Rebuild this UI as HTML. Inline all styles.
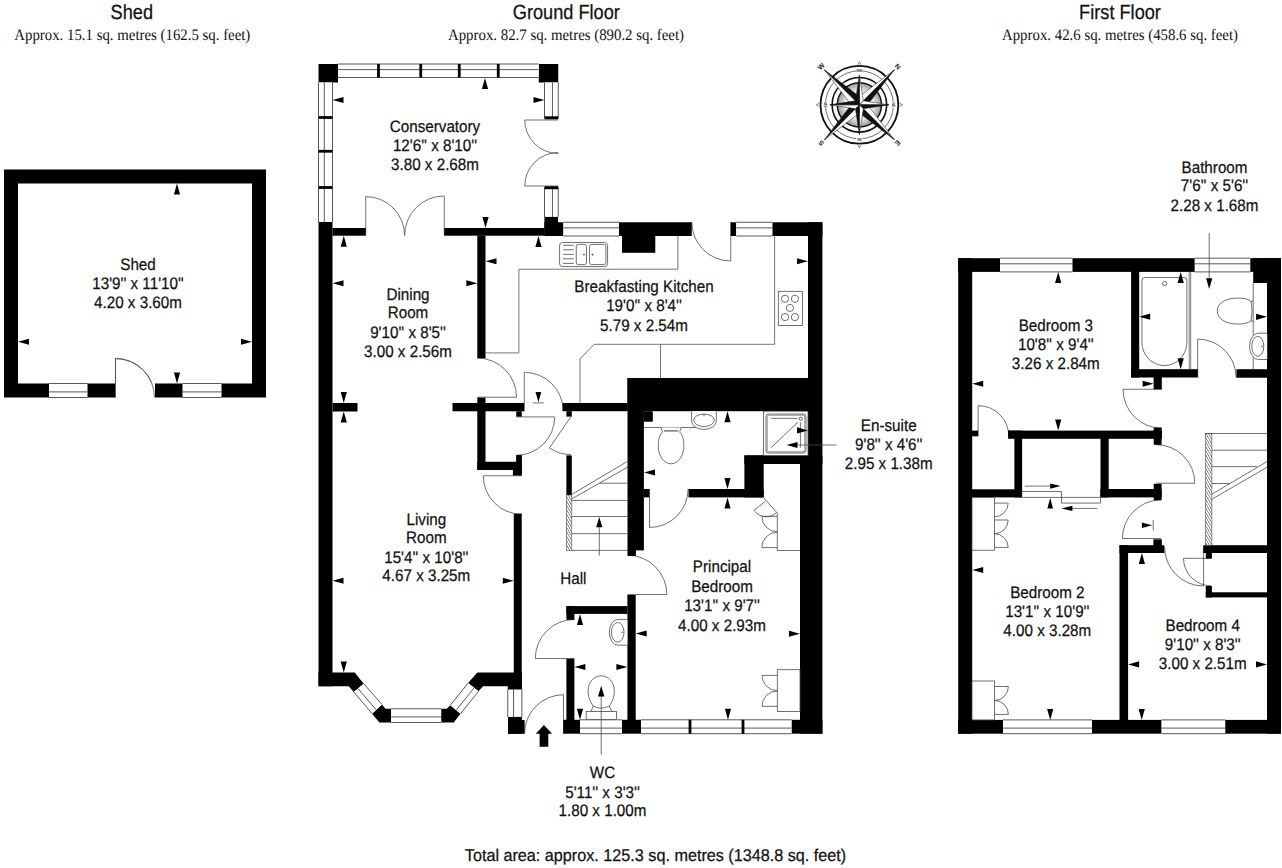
<!DOCTYPE html>
<html><head><meta charset="utf-8"><title>Floor plan</title>
<style>html,body{margin:0;padding:0;background:#fff}svg{display:block}</style>
</head><body>
<svg width="1282" height="868" viewBox="0 0 1282 868">
<rect width="1282" height="868" fill="#fff"/>
<text transform="translate(131.80,18.90) scale(0.887,1)" font-family="Liberation Sans" font-size="20.5" text-anchor="middle" fill="#111" stroke="#111" stroke-width="0.25" text-rendering="geometricPrecision">Shed</text>
<text transform="translate(132.30,40.00) scale(0.927,1)" font-family="Liberation Serif" font-size="16" text-anchor="middle" fill="#111" stroke="#111" stroke-width="0" text-rendering="geometricPrecision">Approx. 15.1 sq. metres (162.5 sq. feet)</text>
<text transform="translate(566.30,18.90) scale(0.887,1)" font-family="Liberation Sans" font-size="20.5" text-anchor="middle" fill="#111" stroke="#111" stroke-width="0.25" text-rendering="geometricPrecision">Ground Floor</text>
<text transform="translate(566.00,40.00) scale(0.927,1)" font-family="Liberation Serif" font-size="16" text-anchor="middle" fill="#111" stroke="#111" stroke-width="0" text-rendering="geometricPrecision">Approx. 82.7 sq. metres (890.2 sq. feet)</text>
<text transform="translate(1120.00,18.90) scale(0.887,1)" font-family="Liberation Sans" font-size="20.5" text-anchor="middle" fill="#111" stroke="#111" stroke-width="0.25" text-rendering="geometricPrecision">First Floor</text>
<text transform="translate(1120.00,40.00) scale(0.927,1)" font-family="Liberation Serif" font-size="16" text-anchor="middle" fill="#111" stroke="#111" stroke-width="0" text-rendering="geometricPrecision">Approx. 42.6 sq. metres (458.6 sq. feet)</text>
<text transform="translate(655.50,861.20) scale(0.952,1)" font-family="Liberation Sans" font-size="17" text-anchor="middle" fill="#111" stroke="#111" stroke-width="0.25" text-rendering="geometricPrecision">Total area: approx. 125.3 sq. metres (1348.8 sq. feet)</text>
<path fill="#000" fill-rule="evenodd" d="M4,169.5H266V397.5H4Z M18,183.5H252V383.5H18Z"/>
<path d="M115.50,397.50 L115.50,358.50 A39.00,39.00 0 0 1 154.50,397.50" stroke="#484848" stroke-width="0.78" fill="none"/>
<rect x="115.50" y="382.80" width="39.50" height="15.40" fill="#fff" />
<path d="M115.50,397.50 L115.50,358.50 A39.00,39.00 0 0 1 154.50,397.50" stroke="#484848" stroke-width="0.78" fill="none"/>
<rect x="49.00" y="383.50" width="38.50" height="14.00" fill="#fff" />
<line x1="49.00" y1="383.50" x2="87.50" y2="383.50" stroke="#5a5a5a" stroke-width="1.0"/>
<line x1="49.00" y1="391.90" x2="87.50" y2="391.90" stroke="#5a5a5a" stroke-width="1.0"/>
<line x1="49.00" y1="397.50" x2="87.50" y2="397.50" stroke="#5a5a5a" stroke-width="1.0"/>
<rect x="182.50" y="383.50" width="39.00" height="14.00" fill="#fff" />
<line x1="182.50" y1="383.50" x2="221.50" y2="383.50" stroke="#5a5a5a" stroke-width="1.0"/>
<line x1="182.50" y1="391.90" x2="221.50" y2="391.90" stroke="#5a5a5a" stroke-width="1.0"/>
<line x1="182.50" y1="397.50" x2="221.50" y2="397.50" stroke="#5a5a5a" stroke-width="1.0"/>
<polygon points="177.00,183.50 173.90,194.50 180.10,194.50" fill="#000" />
<polygon points="177.00,383.50 173.90,372.50 180.10,372.50" fill="#000" />
<polygon points="18.00,341.75 29.00,338.65 29.00,344.85" fill="#000" />
<polygon points="252.00,341.75 241.00,338.65 241.00,344.85" fill="#000" />
<text transform="translate(138.00,269.70) scale(0.916,1)" font-family="Liberation Sans" font-size="16.6" text-anchor="middle" fill="#111" stroke="#111" stroke-width="0.25" text-rendering="geometricPrecision">Shed</text>
<text transform="translate(138.00,288.80) scale(0.916,1)" font-family="Liberation Sans" font-size="16.6" text-anchor="middle" fill="#111" stroke="#111" stroke-width="0.25" text-rendering="geometricPrecision">13'9'' x 11'10''</text>
<text transform="translate(138.00,308.00) scale(0.916,1)" font-family="Liberation Sans" font-size="16.6" text-anchor="middle" fill="#111" stroke="#111" stroke-width="0.25" text-rendering="geometricPrecision">4.20 x 3.60m</text>
<path d="M365.75,235.50 L365.75,196.60 A38.90,38.90 0 0 1 404.65,235.50" stroke="#484848" stroke-width="0.78" fill="none"/>
<path d="M444.25,235.50 L444.25,195.90 A39.60,39.60 0 0 0 404.65,235.50" stroke="#484848" stroke-width="0.78" fill="none"/>
<path d="M558.25,120.00 L524.75,120.00 A33.50,33.50 0 0 0 558.25,153.50" stroke="#484848" stroke-width="0.78" fill="none"/>
<path d="M558.25,186.00 L524.75,186.00 A33.50,33.50 0 0 1 558.25,152.50" stroke="#484848" stroke-width="0.78" fill="none"/>
<path d="M477.30,397.20 L516.50,397.20 A39.20,39.20 0 0 0 477.30,358.00" stroke="#484848" stroke-width="0.78" fill="none"/>
<path d="M524.30,411.30 L524.30,372.30 A39.00,39.00 0 0 1 563.30,411.30" stroke="#484848" stroke-width="0.78" fill="none"/>
<path d="M516.30,416.90 L554.70,416.90 A38.40,38.40 0 0 1 516.30,455.30" stroke="#484848" stroke-width="0.78" fill="none"/>
<path d="M571.00,416.60 L549.48,447.92 A38.00,38.00 0 0 0 571.00,454.60" stroke="#484848" stroke-width="0.78" fill="none"/>
<path d="M521.75,475.75 L483.25,475.75 A38.50,38.50 0 0 0 521.75,514.25" stroke="#484848" stroke-width="0.78" fill="none"/>
<path d="M730.75,222.00 L730.75,261.00 A39.00,39.00 0 0 1 691.75,222.00" stroke="#484848" stroke-width="0.78" fill="none"/>
<path d="M649.50,488.90 L649.50,527.50 A38.60,38.60 0 0 0 688.10,488.90" stroke="#484848" stroke-width="0.78" fill="none"/>
<path d="M627.50,594.50 L666.80,594.50 A39.30,39.30 0 0 0 627.50,555.20" stroke="#484848" stroke-width="0.78" fill="none"/>
<path d="M574.30,658.50 L535.30,658.50 A39.00,39.00 0 0 1 574.30,619.50" stroke="#484848" stroke-width="0.78" fill="none"/>
<path d="M563.50,733.75 L563.50,694.75 A39.00,39.00 0 0 0 524.50,733.75" stroke="#484848" stroke-width="0.78" fill="none"/>
<rect x="318.50" y="64.00" width="19.50" height="18.50" fill="#000" />
<rect x="538.75" y="64.00" width="19.50" height="18.50" fill="#000" />
<rect x="338.00" y="64.00" width="200.75" height="13.50" fill="#fff" />
<line x1="338.00" y1="64.00" x2="538.75" y2="64.00" stroke="#5a5a5a" stroke-width="1.0"/>
<line x1="338.00" y1="69.60" x2="538.75" y2="69.60" stroke="#5a5a5a" stroke-width="1.0"/>
<line x1="338.00" y1="77.50" x2="538.75" y2="77.50" stroke="#5a5a5a" stroke-width="1.0"/>
<rect x="377.10" y="64.00" width="2.80" height="13.50" fill="#000" />
<rect x="419.35" y="64.00" width="2.80" height="13.50" fill="#000" />
<rect x="457.85" y="64.00" width="2.80" height="13.50" fill="#000" />
<rect x="496.85" y="64.00" width="2.80" height="13.50" fill="#000" />
<rect x="318.50" y="82.50" width="14.00" height="139.50" fill="#fff" />
<line x1="318.50" y1="82.50" x2="318.50" y2="222.00" stroke="#5a5a5a" stroke-width="1.0"/>
<line x1="324.30" y1="82.50" x2="324.30" y2="222.00" stroke="#5a5a5a" stroke-width="1.0"/>
<line x1="332.50" y1="82.50" x2="332.50" y2="222.00" stroke="#5a5a5a" stroke-width="1.0"/>
<rect x="318.50" y="116.10" width="14.00" height="2.80" fill="#000" />
<rect x="318.50" y="149.85" width="14.00" height="2.80" fill="#000" />
<rect x="318.50" y="186.10" width="14.00" height="2.80" fill="#000" />
<rect x="544.50" y="82.50" width="13.75" height="35.50" fill="#fff" />
<line x1="544.50" y1="82.50" x2="544.50" y2="118.00" stroke="#5a5a5a" stroke-width="1.0"/>
<line x1="552.45" y1="82.50" x2="552.45" y2="118.00" stroke="#5a5a5a" stroke-width="1.0"/>
<line x1="558.25" y1="82.50" x2="558.25" y2="118.00" stroke="#5a5a5a" stroke-width="1.0"/>
<rect x="544.50" y="116.30" width="13.75" height="3.00" fill="#000" />
<rect x="544.50" y="187.50" width="13.75" height="29.50" fill="#fff" />
<line x1="544.50" y1="187.50" x2="544.50" y2="217.00" stroke="#5a5a5a" stroke-width="1.0"/>
<line x1="552.45" y1="187.50" x2="552.45" y2="217.00" stroke="#5a5a5a" stroke-width="1.0"/>
<line x1="558.25" y1="187.50" x2="558.25" y2="217.00" stroke="#5a5a5a" stroke-width="1.0"/>
<rect x="544.50" y="186.20" width="13.75" height="3.00" fill="#000" />
<rect x="544.40" y="216.90" width="13.60" height="19.10" fill="#000" />
<rect x="544.40" y="222.25" width="19.00" height="13.75" fill="#000" />
<rect x="318.50" y="222.00" width="14.00" height="464.25" fill="#000" />
<rect x="332.50" y="228.00" width="33.25" height="7.70" fill="#000" />
<rect x="444.25" y="228.00" width="100.25" height="7.70" fill="#000" />
<rect x="563.40" y="222.25" width="55.60" height="13.75" fill="#fff" />
<line x1="563.40" y1="222.25" x2="619.00" y2="222.25" stroke="#5a5a5a" stroke-width="1.0"/>
<line x1="563.40" y1="227.85" x2="619.00" y2="227.85" stroke="#5a5a5a" stroke-width="1.0"/>
<line x1="563.40" y1="236.00" x2="619.00" y2="236.00" stroke="#5a5a5a" stroke-width="1.0"/>
<rect x="619.00" y="222.25" width="72.75" height="13.75" fill="#000" />
<rect x="622.00" y="236.00" width="33.30" height="16.80" fill="#000" />
<rect x="730.75" y="222.25" width="5.50" height="13.75" fill="#000" />
<rect x="736.25" y="222.25" width="36.25" height="13.75" fill="#fff" />
<line x1="736.25" y1="222.25" x2="772.50" y2="222.25" stroke="#5a5a5a" stroke-width="1.0"/>
<line x1="736.25" y1="227.85" x2="772.50" y2="227.85" stroke="#5a5a5a" stroke-width="1.0"/>
<line x1="736.25" y1="236.00" x2="772.50" y2="236.00" stroke="#5a5a5a" stroke-width="1.0"/>
<rect x="772.50" y="222.25" width="49.90" height="13.75" fill="#000" />
<rect x="808.00" y="222.25" width="14.40" height="241.75" fill="#000" />
<rect x="800.00" y="455.40" width="22.40" height="278.20" fill="#000" />
<rect x="477.30" y="235.50" width="8.20" height="122.70" fill="#000" />
<rect x="332.50" y="403.00" width="25.00" height="8.50" fill="#000" />
<rect x="452.50" y="403.00" width="71.60" height="8.30" fill="#000" />
<rect x="562.60" y="403.00" width="65.00" height="8.20" fill="#000" />
<rect x="477.30" y="397.60" width="8.20" height="72.40" fill="#000" />
<rect x="477.30" y="461.75" width="44.45" height="8.25" fill="#000" />
<rect x="516.10" y="455.10" width="5.80" height="7.90" fill="#000" />
<rect x="512.90" y="462.00" width="9.00" height="13.50" fill="#000" />
<rect x="516.30" y="411.30" width="5.50" height="5.30" fill="#000" />
<rect x="566.40" y="411.20" width="5.40" height="5.40" fill="#000" />
<rect x="566.40" y="455.40" width="5.40" height="39.60" fill="#000" />
<rect x="513.75" y="513.75" width="8.00" height="175.00" fill="#000" />
<rect x="627.50" y="378.00" width="181.25" height="33.20" fill="#000" />
<rect x="627.50" y="378.00" width="16.40" height="172.40" fill="#000" />
<rect x="627.50" y="550.00" width="8.40" height="6.00" fill="#000" />
<rect x="643.80" y="411.20" width="9.00" height="10.50" fill="#000" />
<rect x="643.80" y="489.00" width="5.60" height="8.40" fill="#000" />
<rect x="688.50" y="489.00" width="75.20" height="8.40" fill="#000" />
<rect x="744.40" y="455.40" width="19.30" height="42.00" fill="#000" />
<rect x="744.40" y="455.40" width="64.35" height="8.60" fill="#000" />
<rect x="627.40" y="595.00" width="8.30" height="125.00" fill="#000" />
<rect x="566.40" y="606.10" width="61.10" height="7.80" fill="#000" />
<rect x="566.40" y="606.10" width="8.00" height="13.70" fill="#000" />
<rect x="566.40" y="658.80" width="8.00" height="61.20" fill="#000" />
<rect x="563.30" y="719.80" width="16.70" height="13.90" fill="#000" />
<rect x="621.80" y="719.80" width="19.20" height="13.90" fill="#000" />
<rect x="791.50" y="719.80" width="30.90" height="13.90" fill="#000" />
<rect x="580.00" y="719.80" width="41.80" height="13.90" fill="#fff" />
<line x1="580.00" y1="719.80" x2="621.80" y2="719.80" stroke="#5a5a5a" stroke-width="1.0"/>
<line x1="580.00" y1="728.10" x2="621.80" y2="728.10" stroke="#5a5a5a" stroke-width="1.0"/>
<line x1="580.00" y1="733.70" x2="621.80" y2="733.70" stroke="#5a5a5a" stroke-width="1.0"/>
<rect x="641.00" y="719.80" width="150.50" height="13.90" fill="#fff" />
<line x1="641.00" y1="719.80" x2="791.50" y2="719.80" stroke="#5a5a5a" stroke-width="1.0"/>
<line x1="641.00" y1="728.10" x2="791.50" y2="728.10" stroke="#5a5a5a" stroke-width="1.0"/>
<line x1="641.00" y1="733.70" x2="791.50" y2="733.70" stroke="#5a5a5a" stroke-width="1.0"/>
<rect x="688.60" y="719.80" width="2.80" height="13.90" fill="#000" />
<rect x="741.60" y="719.80" width="2.80" height="13.90" fill="#000" />
<rect x="507.75" y="689.40" width="14.15" height="27.60" fill="#fff" />
<line x1="507.75" y1="689.40" x2="507.75" y2="717.00" stroke="#5a5a5a" stroke-width="1.0"/>
<line x1="513.55" y1="689.40" x2="513.55" y2="717.00" stroke="#5a5a5a" stroke-width="1.0"/>
<line x1="521.90" y1="689.40" x2="521.90" y2="717.00" stroke="#5a5a5a" stroke-width="1.0"/>
<rect x="508.00" y="716.90" width="13.90" height="16.85" fill="#000" />
<rect x="508.00" y="720.00" width="16.60" height="13.75" fill="#000" />
<polygon points="318.50,672.50 354.75,672.50 363.75,683.75 353.75,691.90 348.75,686.25 318.50,686.25" fill="#000" />
<polygon points="381.90,704.40 385.40,708.75 391.10,708.75 391.10,722.50 379.40,722.50 372.10,713.75" fill="#000" />
<polygon points="441.15,708.75 446.90,708.75 450.30,705.20 460.50,713.75 453.75,722.50 441.15,722.50" fill="#000" />
<polygon points="477.25,672.50 521.90,672.50 521.90,689.40 507.75,689.40 507.75,686.25 483.10,686.25 478.50,691.25 468.10,683.10" fill="#000" />
<rect x="391.10" y="708.75" width="50.05" height="13.75" fill="#fff" />
<line x1="391.10" y1="708.75" x2="441.15" y2="708.75" stroke="#5a5a5a" stroke-width="1.0"/>
<line x1="391.10" y1="716.90" x2="441.15" y2="716.90" stroke="#5a5a5a" stroke-width="1.0"/>
<line x1="391.10" y1="722.50" x2="441.15" y2="722.50" stroke="#5a5a5a" stroke-width="1.0"/>
<polygon points="353.75,691.90 372.10,713.75 381.90,704.40 363.75,683.75" fill="#fff" />
<line x1="353.75" y1="691.90" x2="372.10" y2="713.75" stroke="#5a5a5a" stroke-width="1.0"/>
<line x1="363.75" y1="683.75" x2="381.90" y2="704.40" stroke="#5a5a5a" stroke-width="1.0"/>
<line x1="357.95" y1="688.48" x2="376.22" y2="709.82" stroke="#5a5a5a" stroke-width="1.0"/>
<polygon points="478.50,691.25 460.50,713.75 450.30,705.20 468.10,683.10" fill="#fff" />
<line x1="478.50" y1="691.25" x2="460.50" y2="713.75" stroke="#5a5a5a" stroke-width="1.0"/>
<line x1="468.10" y1="683.10" x2="450.30" y2="705.20" stroke="#5a5a5a" stroke-width="1.0"/>
<line x1="474.13" y1="687.83" x2="456.22" y2="710.16" stroke="#5a5a5a" stroke-width="1.0"/>
<defs><pattern id="h" width="2.2" height="2.2" patternUnits="userSpaceOnUse" patternTransform="rotate(-30)"><rect width="2.2" height="2.2" fill="#fff"/><line x1="0" y1="0" x2="0" y2="2.2" stroke="#333" stroke-width="1"/></pattern></defs>
<rect x="566.4" y="495" width="5.4" height="55.4" fill="url(#h)" stroke="#484848" stroke-width="0.6"/>
<line x1="571.80" y1="500.40" x2="627.50" y2="500.40" stroke="#484848" stroke-width="0.78"/>
<line x1="571.80" y1="516.50" x2="627.50" y2="516.50" stroke="#484848" stroke-width="0.78"/>
<line x1="571.80" y1="533.70" x2="627.50" y2="533.70" stroke="#484848" stroke-width="0.78"/>
<line x1="571.80" y1="550.40" x2="627.50" y2="550.40" stroke="#484848" stroke-width="0.78"/>
<line x1="599.70" y1="483.20" x2="627.50" y2="483.20" stroke="#484848" stroke-width="0.78"/>
<line x1="571.80" y1="494.40" x2="627.50" y2="461.30" stroke="#484848" stroke-width="0.78"/>
<line x1="571.80" y1="498.90" x2="627.50" y2="467.20" stroke="#484848" stroke-width="0.78"/>
<line x1="599.30" y1="555.60" x2="599.30" y2="520.00" stroke="#484848" stroke-width="0.78"/>
<polygon points="599.30,516.90 596.20,527.30 602.40,527.30" fill="#000" />
<path d="M485.5,352.9 H518.9 V269.2 H677.9 V236" stroke="#666" stroke-width="0.9" fill="none"/>
<path d="M774.6,236 V344.3 H594.1 L580,358.9 V403" stroke="#666" stroke-width="0.9" fill="none"/>
<line x1="660.50" y1="344.30" x2="660.50" y2="378.00" stroke="#666" stroke-width="0.9"/>
<rect x="559.6" y="242.5" width="48" height="24.1" rx="3" fill="#fff" stroke="#484848" stroke-width="0.78"/>
<line x1="563.00" y1="245.30" x2="573.75" y2="245.30" stroke="#484848" stroke-width="0.78"/>
<line x1="563.00" y1="249.80" x2="573.75" y2="249.80" stroke="#484848" stroke-width="0.78"/>
<line x1="563.00" y1="254.40" x2="573.75" y2="254.40" stroke="#484848" stroke-width="0.78"/>
<line x1="563.00" y1="258.80" x2="573.75" y2="258.80" stroke="#484848" stroke-width="0.78"/>
<line x1="563.00" y1="263.40" x2="573.75" y2="263.40" stroke="#484848" stroke-width="0.78"/>
<rect x="576.25" y="244.4" width="10.25" height="20.2" rx="2" fill="none" stroke="#484848" stroke-width="0.78"/>
<rect x="589.6" y="244.4" width="16.3" height="20.2" rx="2" fill="none" stroke="#484848" stroke-width="0.78"/>
<circle cx="584" cy="254.6" r="0.9" fill="#444"/><circle cx="592.5" cy="254.6" r="0.9" fill="#444"/>
<rect x="778.3" y="291.3" width="24.2" height="34.3" fill="#fff" stroke="#484848" stroke-width="0.78"/>
<circle cx="785" cy="298.8" r="3.6" fill="none" stroke="#484848" stroke-width="0.78"/>
<circle cx="794.9" cy="298.8" r="3.6" fill="none" stroke="#484848" stroke-width="0.78"/>
<circle cx="789.9" cy="307.9" r="3.6" fill="none" stroke="#484848" stroke-width="0.78"/>
<circle cx="785" cy="317.1" r="3.6" fill="none" stroke="#484848" stroke-width="0.78"/>
<circle cx="794.9" cy="317.1" r="3.6" fill="none" stroke="#484848" stroke-width="0.78"/>
<line x1="644.00" y1="427.50" x2="695.80" y2="427.50" stroke="#484848" stroke-width="0.78"/>
<path d="M691.6,411.3 V420.3 C691.6,426 697,429.3 704,429.3 C711,429.3 716.3,426 716.3,420.3 V411.3" stroke="#484848" stroke-width="0.78" fill="#fff"/>
<ellipse cx="704" cy="420.3" rx="10.3" ry="6.2" fill="none" stroke="#484848" stroke-width="0.78"/>
<line x1="704.00" y1="414.30" x2="704.00" y2="416.20" stroke="#555" stroke-width="0.9"/>
<path d="M661,427.5 L662.5,432 C658.8,436 658.3,441 658.3,446 C658.3,456 664,463.8 671.1,463.8 C678,463.8 683.8,456 683.8,446 C683.8,441 683.3,436 679.7,432 L681.2,427.5" stroke="#484848" stroke-width="0.78" fill="#fff"/>
<line x1="664.00" y1="430.90" x2="678.20" y2="430.90" stroke="#484848" stroke-width="1.1"/>
<rect x="763.6" y="411.2" width="44.4" height="44.2" fill="#fff" stroke="#484848" stroke-width="0.78"/>
<rect x="766" y="414" width="40" height="39" rx="2.5" fill="none" stroke="#484848" stroke-width="0.78"/>
<rect x="767.2" y="415.2" width="37.6" height="36.6" rx="2" fill="none" stroke="#484848" stroke-width="0.6"/>
<line x1="771.20" y1="418.40" x2="797.70" y2="418.40" stroke="#484848" stroke-width="0.78"/>
<circle cx="800.8" cy="418.7" r="1.6" fill="none" stroke="#484848" stroke-width="0.8"/>
<line x1="771.20" y1="447.60" x2="797.70" y2="422.30" stroke="#484848" stroke-width="0.78"/>
<line x1="800.40" y1="422.30" x2="800.40" y2="447.60" stroke="#484848" stroke-width="0.78"/>
<path d="M764,498 L777.3,513.2 V550.5 H800" stroke="#484848" stroke-width="0.78" fill="none"/>
<path d="M765.4,501.3 L754,510.3 A14.8,14.8 0 0 0 776.6,512.6" stroke="#484848" stroke-width="0.78" fill="none"/>
<path d="M777.30,516.30 L761.80,516.30 A15.50,15.50 0 0 0 777.30,531.80" stroke="#484848" stroke-width="0.78" fill="none"/>
<path d="M777.30,547.60 L761.80,547.60 A15.50,15.50 0 0 1 777.30,532.10" stroke="#484848" stroke-width="0.78" fill="none"/>
<rect x="777.3" y="669.7" width="22.7" height="41.7" fill="#fff" stroke="#484848" stroke-width="0.78"/>
<path d="M777.30,675.40 L762.00,675.40 A15.30,15.30 0 0 0 777.30,690.70" stroke="#484848" stroke-width="0.78" fill="none"/>
<path d="M777.30,706.30 L762.00,706.30 A15.30,15.30 0 0 1 777.30,691.00" stroke="#484848" stroke-width="0.78" fill="none"/>
<path d="M627.3,619.4 H618 A8.7,12.9 0 0 0 618,645.2 H627.3" stroke="#484848" stroke-width="0.78" fill="#fff"/>
<ellipse cx="617.7" cy="632.3" rx="6.3" ry="9.8" fill="none" stroke="#484848" stroke-width="0.78"/>
<line x1="621.50" y1="632.30" x2="623.30" y2="632.30" stroke="#555" stroke-width="0.9"/>
<path d="M591,711.3 L593.2,706 C589.5,701 588.1,696 588.1,691 C588.1,682 594,675.8 601.2,675.8 C608.5,675.8 614.3,682 614.3,691 C614.3,696 613,701 609.3,706 L611.7,711.3" stroke="#484848" stroke-width="0.78" fill="#fff"/>
<path d="M593.2,706 Q601.2,710.3 609.3,706" stroke="#484848" stroke-width="0.78" fill="none"/>
<rect x="586.2" y="711.4" width="30.3" height="8.2" fill="#fff" stroke="#484848" stroke-width="0.78"/>
<line x1="601.20" y1="754.50" x2="601.20" y2="690.00" stroke="#484848" stroke-width="0.78"/>
<polygon points="601.20,685.70 598.00,696.50 604.40,696.50" fill="#000" />
<polygon points="485.00,78.00 481.90,89.00 488.10,89.00" fill="#000" />
<polygon points="332.50,100.00 343.50,96.90 343.50,103.10" fill="#000" />
<polygon points="544.50,100.00 533.50,96.90 533.50,103.10" fill="#000" />
<polygon points="485.50,228.00 482.40,217.00 488.60,217.00" fill="#000" />
<polygon points="343.75,235.70 340.65,246.70 346.85,246.70" fill="#000" />
<polygon points="538.50,235.90 535.40,246.90 541.60,246.90" fill="#000" />
<polygon points="485.50,261.25 496.50,258.15 496.50,264.35" fill="#000" />
<polygon points="332.50,283.25 343.50,280.15 343.50,286.35" fill="#000" />
<polygon points="477.30,283.25 466.30,280.15 466.30,286.35" fill="#000" />
<polygon points="343.75,403.00 340.65,392.00 346.85,392.00" fill="#000" />
<polygon points="343.75,411.50 340.65,422.50 346.85,422.50" fill="#000" />
<polygon points="538.40,402.30 535.50,392.10 541.30,392.10" fill="#000" />
<line x1="532.70" y1="402.90" x2="543.80" y2="402.90" stroke="#484848" stroke-width="0.78"/>
<polygon points="808.00,261.25 797.00,258.15 797.00,264.35" fill="#000" />
<polygon points="332.50,580.75 343.50,577.65 343.50,583.85" fill="#000" />
<polygon points="513.75,580.75 502.75,577.65 502.75,583.85" fill="#000" />
<polygon points="343.75,672.50 340.65,661.50 346.85,661.50" fill="#000" />
<polygon points="727.50,411.20 724.40,422.20 730.60,422.20" fill="#000" />
<polygon points="644.00,472.50 655.00,469.40 655.00,475.60" fill="#000" />
<polygon points="727.50,489.00 724.40,478.00 730.60,478.00" fill="#000" />
<polygon points="727.50,497.40 724.40,508.40 730.60,508.40" fill="#000" />
<polygon points="808.00,430.40 797.00,427.30 797.00,433.50" fill="#000" />
<polygon points="786.50,445.00 797.50,441.90 797.50,448.10" fill="#000" />
<line x1="797.00" y1="445.00" x2="836.50" y2="445.00" stroke="#484848" stroke-width="0.78"/>
<polygon points="635.70,633.50 646.70,630.40 646.70,636.60" fill="#000" />
<polygon points="800.00,633.75 789.00,630.65 789.00,636.85" fill="#000" />
<polygon points="728.00,719.80 724.90,708.80 731.10,708.80" fill="#000" />
<polygon points="580.00,613.90 576.90,624.90 583.10,624.90" fill="#000" />
<polygon points="574.40,667.00 585.40,663.90 585.40,670.10" fill="#000" />
<polygon points="627.40,667.00 616.40,663.90 616.40,670.10" fill="#000" />
<polygon points="580.00,719.80 576.90,708.80 583.10,708.80" fill="#000" />
<polygon points="543.90,725.10 552.10,733.80 548.30,733.80 548.30,746.80 539.60,746.80 539.60,733.80 535.80,733.80" fill="#000" />
<text transform="translate(435.00,132.00) scale(0.916,1)" font-family="Liberation Sans" font-size="16.6" text-anchor="middle" fill="#111" stroke="#111" stroke-width="0.25" text-rendering="geometricPrecision">Conservatory</text>
<text transform="translate(435.00,151.20) scale(0.916,1)" font-family="Liberation Sans" font-size="16.6" text-anchor="middle" fill="#111" stroke="#111" stroke-width="0.25" text-rendering="geometricPrecision">12'6'' x 8'10''</text>
<text transform="translate(435.00,170.20) scale(0.916,1)" font-family="Liberation Sans" font-size="16.6" text-anchor="middle" fill="#111" stroke="#111" stroke-width="0.25" text-rendering="geometricPrecision">3.80 x 2.68m</text>
<text transform="translate(408.00,299.50) scale(0.916,1)" font-family="Liberation Sans" font-size="16.6" text-anchor="middle" fill="#111" stroke="#111" stroke-width="0.25" text-rendering="geometricPrecision">Dining</text>
<text transform="translate(408.00,318.40) scale(0.916,1)" font-family="Liberation Sans" font-size="16.6" text-anchor="middle" fill="#111" stroke="#111" stroke-width="0.25" text-rendering="geometricPrecision">Room</text>
<text transform="translate(408.00,337.50) scale(0.916,1)" font-family="Liberation Sans" font-size="16.6" text-anchor="middle" fill="#111" stroke="#111" stroke-width="0.25" text-rendering="geometricPrecision">9'10'' x 8'5''</text>
<text transform="translate(408.00,356.60) scale(0.916,1)" font-family="Liberation Sans" font-size="16.6" text-anchor="middle" fill="#111" stroke="#111" stroke-width="0.25" text-rendering="geometricPrecision">3.00 x 2.56m</text>
<text transform="translate(644.00,291.80) scale(0.916,1)" font-family="Liberation Sans" font-size="16.6" text-anchor="middle" fill="#111" stroke="#111" stroke-width="0.25" text-rendering="geometricPrecision">Breakfasting Kitchen</text>
<text transform="translate(644.00,311.20) scale(0.916,1)" font-family="Liberation Sans" font-size="16.6" text-anchor="middle" fill="#111" stroke="#111" stroke-width="0.25" text-rendering="geometricPrecision">19'0'' x 8'4''</text>
<text transform="translate(644.00,330.70) scale(0.916,1)" font-family="Liberation Sans" font-size="16.6" text-anchor="middle" fill="#111" stroke="#111" stroke-width="0.25" text-rendering="geometricPrecision">5.79 x 2.54m</text>
<text transform="translate(426.30,524.50) scale(0.916,1)" font-family="Liberation Sans" font-size="16.6" text-anchor="middle" fill="#111" stroke="#111" stroke-width="0.25" text-rendering="geometricPrecision">Living</text>
<text transform="translate(426.30,543.20) scale(0.916,1)" font-family="Liberation Sans" font-size="16.6" text-anchor="middle" fill="#111" stroke="#111" stroke-width="0.25" text-rendering="geometricPrecision">Room</text>
<text transform="translate(426.30,562.50) scale(0.916,1)" font-family="Liberation Sans" font-size="16.6" text-anchor="middle" fill="#111" stroke="#111" stroke-width="0.25" text-rendering="geometricPrecision">15'4'' x 10'8''</text>
<text transform="translate(426.30,581.30) scale(0.916,1)" font-family="Liberation Sans" font-size="16.6" text-anchor="middle" fill="#111" stroke="#111" stroke-width="0.25" text-rendering="geometricPrecision">4.67 x 3.25m</text>
<text transform="translate(573.30,583.80) scale(0.916,1)" font-family="Liberation Sans" font-size="16.6" text-anchor="middle" fill="#111" stroke="#111" stroke-width="0.25" text-rendering="geometricPrecision">Hall</text>
<text transform="translate(722.00,572.40) scale(0.916,1)" font-family="Liberation Sans" font-size="16.6" text-anchor="middle" fill="#111" stroke="#111" stroke-width="0.25" text-rendering="geometricPrecision">Principal</text>
<text transform="translate(722.00,592.00) scale(0.916,1)" font-family="Liberation Sans" font-size="16.6" text-anchor="middle" fill="#111" stroke="#111" stroke-width="0.25" text-rendering="geometricPrecision">Bedroom</text>
<text transform="translate(722.00,611.20) scale(0.916,1)" font-family="Liberation Sans" font-size="16.6" text-anchor="middle" fill="#111" stroke="#111" stroke-width="0.25" text-rendering="geometricPrecision">13'1'' x 9'7''</text>
<text transform="translate(722.00,630.50) scale(0.916,1)" font-family="Liberation Sans" font-size="16.6" text-anchor="middle" fill="#111" stroke="#111" stroke-width="0.25" text-rendering="geometricPrecision">4.00 x 2.93m</text>
<text transform="translate(888.70,430.90) scale(0.916,1)" font-family="Liberation Sans" font-size="16.6" text-anchor="middle" fill="#111" stroke="#111" stroke-width="0.25" text-rendering="geometricPrecision">En-suite</text>
<text transform="translate(888.70,449.80) scale(0.916,1)" font-family="Liberation Sans" font-size="16.6" text-anchor="middle" fill="#111" stroke="#111" stroke-width="0.25" text-rendering="geometricPrecision">9'8'' x 4'6''</text>
<text transform="translate(888.70,469.10) scale(0.916,1)" font-family="Liberation Sans" font-size="16.6" text-anchor="middle" fill="#111" stroke="#111" stroke-width="0.25" text-rendering="geometricPrecision">2.95 x 1.38m</text>
<text transform="translate(602.50,778.00) scale(0.916,1)" font-family="Liberation Sans" font-size="16.6" text-anchor="middle" fill="#111" stroke="#111" stroke-width="0.25" text-rendering="geometricPrecision">WC</text>
<text transform="translate(602.50,797.50) scale(0.916,1)" font-family="Liberation Sans" font-size="16.6" text-anchor="middle" fill="#111" stroke="#111" stroke-width="0.25" text-rendering="geometricPrecision">5'11'' x 3'3''</text>
<text transform="translate(602.50,816.30) scale(0.916,1)" font-family="Liberation Sans" font-size="16.6" text-anchor="middle" fill="#111" stroke="#111" stroke-width="0.25" text-rendering="geometricPrecision">1.80 x 1.00m</text>
<path d="M1197.70,377.50 L1197.70,339.10 A38.40,38.40 0 0 1 1236.10,377.50" stroke="#484848" stroke-width="0.78" fill="none"/>
<path d="M1162.00,389.25 L1123.00,389.25 A39.00,39.00 0 0 0 1162.00,428.25" stroke="#484848" stroke-width="0.78" fill="none"/>
<path d="M978.10,436.30 L978.10,405.60 A30.70,30.70 0 0 1 1008.80,436.30" stroke="#484848" stroke-width="0.78" fill="none"/>
<path d="M1156.30,483.20 L1194.80,483.20 A38.50,38.50 0 0 0 1156.30,444.70" stroke="#484848" stroke-width="0.78" fill="none"/>
<path d="M1161.00,538.50 L1122.40,538.50 A38.60,38.60 0 0 1 1161.00,499.90" stroke="#484848" stroke-width="0.78" fill="none"/>
<path d="M1203.60,547.00 L1203.60,586.00 A39.00,39.00 0 0 1 1164.60,547.00" stroke="#484848" stroke-width="0.78" fill="none"/>
<path d="M1211.00,558.30 L1183.50,558.30 A27.50,27.50 0 0 0 1211.00,585.80" stroke="#484848" stroke-width="0.78" fill="none"/>
<rect x="958.20" y="258.20" width="14.00" height="475.50" fill="#000" />
<rect x="958.20" y="258.20" width="41.80" height="13.70" fill="#000" />
<rect x="1000.00" y="258.20" width="72.50" height="13.70" fill="#fff" />
<line x1="1000.00" y1="258.20" x2="1072.50" y2="258.20" stroke="#5a5a5a" stroke-width="1.0"/>
<line x1="1000.00" y1="263.80" x2="1072.50" y2="263.80" stroke="#5a5a5a" stroke-width="1.0"/>
<line x1="1000.00" y1="271.90" x2="1072.50" y2="271.90" stroke="#5a5a5a" stroke-width="1.0"/>
<rect x="1072.50" y="258.20" width="122.30" height="13.70" fill="#000" />
<rect x="1194.80" y="258.20" width="55.50" height="13.70" fill="#fff" />
<line x1="1194.80" y1="258.20" x2="1250.30" y2="258.20" stroke="#5a5a5a" stroke-width="1.0"/>
<line x1="1194.80" y1="263.80" x2="1250.30" y2="263.80" stroke="#5a5a5a" stroke-width="1.0"/>
<line x1="1194.80" y1="271.90" x2="1250.30" y2="271.90" stroke="#5a5a5a" stroke-width="1.0"/>
<rect x="1250.30" y="258.20" width="30.70" height="13.70" fill="#000" />
<rect x="1253.20" y="258.20" width="27.80" height="24.80" fill="#000" />
<rect x="1267.00" y="258.20" width="14.00" height="475.50" fill="#000" />
<rect x="958.20" y="719.90" width="44.80" height="13.80" fill="#000" />
<rect x="1003.00" y="719.90" width="89.00" height="13.80" fill="#fff" />
<line x1="1003.00" y1="719.90" x2="1092.00" y2="719.90" stroke="#5a5a5a" stroke-width="1.0"/>
<line x1="1003.00" y1="728.10" x2="1092.00" y2="728.10" stroke="#5a5a5a" stroke-width="1.0"/>
<line x1="1003.00" y1="733.70" x2="1092.00" y2="733.70" stroke="#5a5a5a" stroke-width="1.0"/>
<rect x="1092.00" y="719.90" width="69.60" height="13.80" fill="#000" />
<rect x="1161.60" y="719.90" width="63.70" height="13.80" fill="#fff" />
<line x1="1161.60" y1="719.90" x2="1225.30" y2="719.90" stroke="#5a5a5a" stroke-width="1.0"/>
<line x1="1161.60" y1="728.10" x2="1225.30" y2="728.10" stroke="#5a5a5a" stroke-width="1.0"/>
<line x1="1161.60" y1="733.70" x2="1225.30" y2="733.70" stroke="#5a5a5a" stroke-width="1.0"/>
<rect x="1225.30" y="719.90" width="55.70" height="13.80" fill="#000" />
<rect x="1131.10" y="271.00" width="8.10" height="106.50" fill="#000" />
<rect x="1131.10" y="369.20" width="66.70" height="8.30" fill="#000" />
<rect x="1153.60" y="377.00" width="8.20" height="12.30" fill="#000" />
<rect x="1236.40" y="369.20" width="31.10" height="8.50" fill="#000" />
<rect x="972.00" y="430.60" width="6.10" height="5.70" fill="#000" />
<rect x="1008.10" y="430.60" width="153.90" height="8.20" fill="#000" />
<rect x="1008.10" y="430.60" width="14.00" height="5.70" fill="#000" />
<rect x="1153.70" y="427.60" width="7.90" height="17.20" fill="#000" />
<rect x="1014.40" y="436.00" width="7.70" height="61.40" fill="#000" />
<rect x="972.00" y="489.30" width="50.00" height="8.10" fill="#000" />
<rect x="1100.50" y="438.00" width="8.20" height="59.40" fill="#000" />
<rect x="1100.30" y="489.00" width="61.30" height="8.40" fill="#000" />
<rect x="1153.70" y="483.80" width="7.90" height="16.40" fill="#000" />
<rect x="1153.40" y="539.30" width="8.40" height="6.70" fill="#000" />
<rect x="1119.50" y="545.20" width="44.80" height="7.80" fill="#000" />
<rect x="1119.50" y="545.20" width="8.60" height="174.80" fill="#000" />
<rect x="1203.30" y="545.20" width="64.70" height="7.80" fill="#000" />
<rect x="1205.80" y="552.00" width="6.10" height="6.60" fill="#000" />
<rect x="1205.80" y="586.00" width="6.10" height="11.40" fill="#000" />
<rect x="1205.80" y="592.30" width="62.20" height="5.10" fill="#000" />
<line x1="1253.20" y1="283.00" x2="1253.20" y2="369.20" stroke="#484848" stroke-width="0.78"/>
<line x1="1189.20" y1="271.90" x2="1189.20" y2="369.20" stroke="#5a5a5a" stroke-width="0.8"/>
<line x1="1190.70" y1="271.90" x2="1190.70" y2="369.20" stroke="#5a5a5a" stroke-width="0.8"/>
<path d="M1144.9,277.5 H1183.9 Q1186.9,277.5 1186.9,280.5 V342 A22.5,23.6 0 0 1 1141.9,342 V280.5 Q1141.9,277.5 1144.9,277.5Z" stroke="#484848" stroke-width="0.78" fill="#fff"/>
<circle cx="1164.7" cy="283.5" r="2.1" fill="none" stroke="#484848" stroke-width="0.8"/>
<path d="M1251,301.5 C1247,298.3 1243,298.1 1237,298.1 C1226,298.1 1217.3,303 1217.3,311 C1217.3,319 1226,324 1237,324 C1243,324 1247,323.8 1251,320.8 C1252.3,315 1252.3,307 1251,301.5Z" stroke="#484848" stroke-width="0.78" fill="#fff"/>
<line x1="1251.00" y1="301.50" x2="1253.20" y2="301.00" stroke="#484848" stroke-width="0.78"/>
<line x1="1251.00" y1="320.80" x2="1253.20" y2="321.20" stroke="#484848" stroke-width="0.78"/>
<path d="M1267.2,333.2 H1258.5 A9,13.15 0 0 0 1258.5,359.5 H1267.2" stroke="#484848" stroke-width="0.78" fill="#fff"/>
<ellipse cx="1257.8" cy="346.3" rx="6" ry="10" fill="none" stroke="#484848" stroke-width="0.78"/>
<circle cx="1262" cy="346.3" r="0.8" fill="#555"/>
<rect x="1205.5" y="433.5" width="6.4" height="111.7" fill="url(#h)" stroke="#484848" stroke-width="0.6"/>
<line x1="1205.50" y1="433.50" x2="1267.00" y2="433.50" stroke="#484848" stroke-width="0.78"/>
<line x1="1211.90" y1="450.20" x2="1267.00" y2="450.20" stroke="#484848" stroke-width="0.78"/>
<line x1="1211.90" y1="466.60" x2="1257.00" y2="466.60" stroke="#484848" stroke-width="0.78"/>
<line x1="1211.90" y1="483.50" x2="1230.00" y2="483.50" stroke="#484848" stroke-width="0.78"/>
<line x1="1211.90" y1="494.20" x2="1267.00" y2="461.60" stroke="#484848" stroke-width="0.78"/>
<line x1="1211.90" y1="499.20" x2="1267.00" y2="467.30" stroke="#484848" stroke-width="0.78"/>
<path d="M1022,491.5 H1061.5 V503.1 H1100.6 V497.4" stroke="#484848" stroke-width="0.78" fill="none"/>
<line x1="1022.00" y1="497.40" x2="1100.30" y2="497.40" stroke="#484848" stroke-width="0.78"/>
<line x1="1024.70" y1="486.10" x2="1052.00" y2="486.10" stroke="#484848" stroke-width="0.78"/>
<polygon points="1060.60,486.10 1050.20,483.40 1050.20,488.80" fill="#000" />
<line x1="1097.00" y1="508.40" x2="1070.00" y2="508.40" stroke="#484848" stroke-width="0.78"/>
<polygon points="1061.50,508.40 1072.40,505.70 1072.40,511.10" fill="#000" />
<polygon points="1050.20,497.70 1047.40,508.40 1053.00,508.40" fill="#000" />
<rect x="972" y="497.4" width="22.5" height="52.8" fill="#fff" stroke="#484848" stroke-width="0.78"/>
<path d="M994.50,503.10 L1008.20,503.10 A13.70,13.70 0 0 1 994.50,516.80" stroke="#484848" stroke-width="0.78" fill="none"/>
<path d="M994.50,520.00 L1008.20,520.00 A13.70,13.70 0 0 1 994.50,533.70" stroke="#484848" stroke-width="0.78" fill="none"/>
<path d="M994.50,547.40 L1008.20,547.40 A13.70,13.70 0 0 0 994.50,533.70" stroke="#484848" stroke-width="0.78" fill="none"/>
<rect x="972" y="681" width="22.4" height="38.9" fill="#fff" stroke="#484848" stroke-width="0.78"/>
<path d="M994.40,686.50 L1008.40,686.50 A14.00,14.00 0 0 1 994.40,700.50" stroke="#484848" stroke-width="0.78" fill="none"/>
<path d="M994.40,714.40 L1008.40,714.40 A14.00,14.00 0 0 0 994.40,700.40" stroke="#484848" stroke-width="0.78" fill="none"/>
<polygon points="1058.20,271.90 1055.10,282.90 1061.30,282.90" fill="#000" />
<polygon points="972.20,383.75 983.20,380.65 983.20,386.85" fill="#000" />
<polygon points="1153.60,383.75 1142.60,380.65 1142.60,386.85" fill="#000" />
<polygon points="1058.20,430.60 1055.10,419.60 1061.30,419.60" fill="#000" />
<polygon points="1180.70,271.90 1177.60,282.90 1183.80,282.90" fill="#000" />
<polygon points="1180.70,369.20 1177.60,358.20 1183.80,358.20" fill="#000" />
<polygon points="1139.20,316.70 1150.20,313.60 1150.20,319.80" fill="#000" />
<polygon points="1267.00,316.80 1256.00,313.70 1256.00,319.90" fill="#000" />
<line x1="1209.20" y1="233.00" x2="1209.20" y2="280.00" stroke="#484848" stroke-width="0.78"/>
<polygon points="1209.20,289.00 1206.10,278.20 1212.30,278.20" fill="#000" />
<polygon points="1152.20,525.30 1141.90,522.50 1141.90,528.10" fill="#000" />
<line x1="1153.20" y1="520.00" x2="1153.20" y2="530.40" stroke="#484848" stroke-width="0.78"/>
<polygon points="1141.90,553.00 1138.80,564.00 1145.00,564.00" fill="#000" />
<polygon points="972.20,570.00 983.20,566.90 983.20,573.10" fill="#000" />
<polygon points="1050.20,719.90 1047.10,708.90 1053.30,708.90" fill="#000" />
<polygon points="1141.70,719.90 1138.60,708.90 1144.80,708.90" fill="#000" />
<polygon points="1128.10,664.40 1139.10,661.30 1139.10,667.50" fill="#000" />
<polygon points="1267.00,664.40 1256.00,661.30 1256.00,667.50" fill="#000" />
<text transform="translate(1214.50,172.50) scale(0.916,1)" font-family="Liberation Sans" font-size="16.6" text-anchor="middle" fill="#111" stroke="#111" stroke-width="0.25" text-rendering="geometricPrecision">Bathroom</text>
<text transform="translate(1214.50,191.40) scale(0.916,1)" font-family="Liberation Sans" font-size="16.6" text-anchor="middle" fill="#111" stroke="#111" stroke-width="0.25" text-rendering="geometricPrecision">7'6'' x 5'6''</text>
<text transform="translate(1214.50,210.70) scale(0.916,1)" font-family="Liberation Sans" font-size="16.6" text-anchor="middle" fill="#111" stroke="#111" stroke-width="0.25" text-rendering="geometricPrecision">2.28 x 1.68m</text>
<text transform="translate(1055.80,330.80) scale(0.916,1)" font-family="Liberation Sans" font-size="16.6" text-anchor="middle" fill="#111" stroke="#111" stroke-width="0.25" text-rendering="geometricPrecision">Bedroom 3</text>
<text transform="translate(1055.80,350.00) scale(0.916,1)" font-family="Liberation Sans" font-size="16.6" text-anchor="middle" fill="#111" stroke="#111" stroke-width="0.25" text-rendering="geometricPrecision">10'8'' x 9'4''</text>
<text transform="translate(1055.80,369.20) scale(0.916,1)" font-family="Liberation Sans" font-size="16.6" text-anchor="middle" fill="#111" stroke="#111" stroke-width="0.25" text-rendering="geometricPrecision">3.26 x 2.84m</text>
<text transform="translate(1047.30,597.60) scale(0.916,1)" font-family="Liberation Sans" font-size="16.6" text-anchor="middle" fill="#111" stroke="#111" stroke-width="0.25" text-rendering="geometricPrecision">Bedroom 2</text>
<text transform="translate(1047.30,616.50) scale(0.916,1)" font-family="Liberation Sans" font-size="16.6" text-anchor="middle" fill="#111" stroke="#111" stroke-width="0.25" text-rendering="geometricPrecision">13'1'' x 10'9''</text>
<text transform="translate(1047.30,635.60) scale(0.916,1)" font-family="Liberation Sans" font-size="16.6" text-anchor="middle" fill="#111" stroke="#111" stroke-width="0.25" text-rendering="geometricPrecision">4.00 x 3.28m</text>
<text transform="translate(1202.70,631.00) scale(0.916,1)" font-family="Liberation Sans" font-size="16.6" text-anchor="middle" fill="#111" stroke="#111" stroke-width="0.25" text-rendering="geometricPrecision">Bedroom 4</text>
<text transform="translate(1202.70,650.10) scale(0.916,1)" font-family="Liberation Sans" font-size="16.6" text-anchor="middle" fill="#111" stroke="#111" stroke-width="0.25" text-rendering="geometricPrecision">9'10'' x 8'3''</text>
<text transform="translate(1202.70,669.30) scale(0.916,1)" font-family="Liberation Sans" font-size="16.6" text-anchor="middle" fill="#111" stroke="#111" stroke-width="0.25" text-rendering="geometricPrecision">3.00 x 2.51m</text>
<defs><radialGradient id="cg"><stop offset="0" stop-color="#fff"/><stop offset="0.6" stop-color="#f2f2f2"/><stop offset="1" stop-color="#9a9a9a"/></radialGradient></defs>
<g transform="translate(859.4,104.8)">
<circle r="38.9" fill="#fff" stroke="#111" stroke-width="1.8"/>
<circle r="34" fill="none" stroke="#333" stroke-width="0.7"/>
<circle r="27.3" fill="none" stroke="#111" stroke-width="1.6"/>
<circle r="22.1" fill="url(#cg)" stroke="#111" stroke-width="1.5"/>
<g transform="rotate(0)"><rect x="-3" y="-35.3" width="6" height="2.6" fill="#fff"/><text y="-32.8" font-family="Liberation Sans" font-size="3.4" font-weight="bold" text-anchor="middle" fill="#333">NW</text><path d="M-1.6,-40 L0,-43.2 L1.6,-40" fill="none" stroke="#444" stroke-width="0.6"/></g>
<g transform="rotate(90)"><rect x="-3" y="-35.3" width="6" height="2.6" fill="#fff"/><text y="-32.8" font-family="Liberation Sans" font-size="3.4" font-weight="bold" text-anchor="middle" fill="#333">NE</text><path d="M-1.6,-40 L0,-43.2 L1.6,-40" fill="none" stroke="#444" stroke-width="0.6"/></g>
<g transform="rotate(180)"><rect x="-3" y="-35.3" width="6" height="2.6" fill="#fff"/><text y="-32.8" font-family="Liberation Sans" font-size="3.4" font-weight="bold" text-anchor="middle" fill="#333">SE</text><path d="M-1.6,-40 L0,-43.2 L1.6,-40" fill="none" stroke="#444" stroke-width="0.6"/></g>
<g transform="rotate(270)"><rect x="-3" y="-35.3" width="6" height="2.6" fill="#fff"/><text y="-32.8" font-family="Liberation Sans" font-size="3.4" font-weight="bold" text-anchor="middle" fill="#333">SW</text><path d="M-1.6,-40 L0,-43.2 L1.6,-40" fill="none" stroke="#444" stroke-width="0.6"/></g>
<polygon points="0,0 0.00,-8.20 35.00,-35.00" fill="#fff" stroke="#111" stroke-width="0.5"/>
<polygon points="0,0 8.20,-0.00 35.00,-35.00" fill="#111" stroke="#111" stroke-width="0.5"/>
<polygon points="0,0 8.20,-0.00 35.00,35.00" fill="#fff" stroke="#111" stroke-width="0.5"/>
<polygon points="0,0 0.00,8.20 35.00,35.00" fill="#111" stroke="#111" stroke-width="0.5"/>
<polygon points="0,0 0.00,8.20 -35.00,35.00" fill="#fff" stroke="#111" stroke-width="0.5"/>
<polygon points="0,0 -8.20,0.00 -35.00,35.00" fill="#111" stroke="#111" stroke-width="0.5"/>
<polygon points="0,0 -8.20,0.00 -35.00,-35.00" fill="#fff" stroke="#111" stroke-width="0.5"/>
<polygon points="0,0 -0.00,-8.20 -35.00,-35.00" fill="#111" stroke="#111" stroke-width="0.5"/>
<polygon points="0,0 3.96,-3.96 0.00,-29.50" fill="#fff" stroke="#111" stroke-width="0.5"/>
<polygon points="0,0 -3.96,-3.96 0.00,-29.50" fill="#111" stroke="#111" stroke-width="0.5"/>
<polygon points="0,0 3.96,-3.96 29.50,-0.00" fill="#fff" stroke="#111" stroke-width="0.5"/>
<polygon points="0,0 3.96,3.96 29.50,-0.00" fill="#111" stroke="#111" stroke-width="0.5"/>
<polygon points="0,0 3.96,3.96 0.00,29.50" fill="#fff" stroke="#111" stroke-width="0.5"/>
<polygon points="0,0 -3.96,3.96 0.00,29.50" fill="#111" stroke="#111" stroke-width="0.5"/>
<polygon points="0,0 -3.96,3.96 -29.50,0.00" fill="#fff" stroke="#111" stroke-width="0.5"/>
<polygon points="0,0 -3.96,-3.96 -29.50,0.00" fill="#111" stroke="#111" stroke-width="0.5"/>
<text transform="translate(38.3,-38.3) rotate(45)" font-family="Liberation Sans" font-size="7" font-weight="bold" text-anchor="middle" dy="2.5" fill="#222">N</text>
<text transform="translate(38.3,38.3) rotate(135)" font-family="Liberation Sans" font-size="7" font-weight="bold" text-anchor="middle" dy="2.5" fill="#222">E</text>
<text transform="translate(-38.3,38.3) rotate(225)" font-family="Liberation Sans" font-size="7" font-weight="bold" text-anchor="middle" dy="2.5" fill="#222">S</text>
<text transform="translate(-38.3,-38.3) rotate(315)" font-family="Liberation Sans" font-size="7" font-weight="bold" text-anchor="middle" dy="2.5" fill="#222">W</text>
</g>
</svg>
</body></html>
